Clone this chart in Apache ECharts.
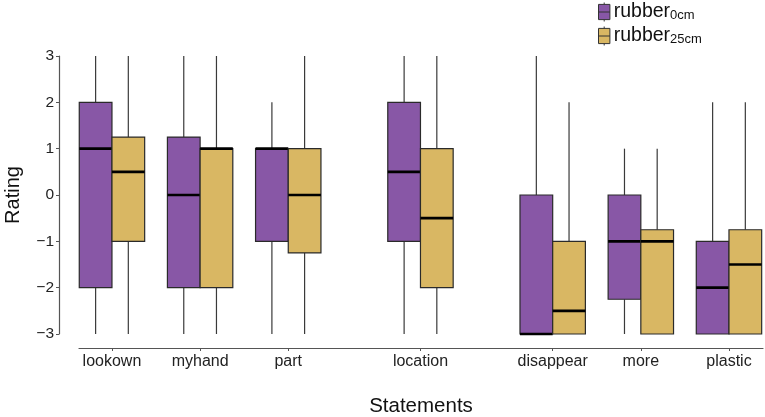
<!DOCTYPE html>
<html>
<head>
<meta charset="utf-8">
<script src="https://cdn.jsdelivr.net/npm/echarts@6/dist/echarts.min.js"></script>
<style>html,body{margin:0;padding:0;background:#fff}#c{width:765px;height:417px}</style>
</head>
<body>
<div id="c"></div>
<script>
// Statements (x categories) and their positions along the x axis
const categories = ['lookown', 'myhand', 'part', 'location', 'disappear', 'more', 'plastic'];
const positions = [0, 1, 2, 3.5, 5, 6, 7];
// [min, Q1, median, Q3, max]
const rubber0cm = [
  [-3, -2, 1, 2, 3],
  [-3, -2, 0, 1.25, 3],
  [-3, -1, 1, 1, 2],
  [-3, -1, 0.5, 2, 3],
  [-3, -3, -3, 0, 3],
  [-3, -2.25, -1, 0, 1],
  [-3, -3, -2, -1, 2]
];
const rubber25cm = [
  [-3, -1, 0.5, 1.25, 3],
  [-3, -2, 1, 1, 3],
  [-3, -1.25, 0, 1, 3],
  [-3, -2, -0.5, 1, 3],
  [-3, -3, -2.5, -1, 2],
  [-3, -3, -1, -0.75, 1],
  [-3, -3, -1.5, -0.75, 2]
];
const yTicks = [-3, -2, -1, 0, 1, 2, 3];

const FONT = 'Liberation Sans';
const BOXW = 32.7;

function makeRender(side) {
  return function (params, api) {
    const x = api.value(0);
    const lo = api.coord([x, api.value(1)]);
    const q1 = api.coord([x, api.value(2)]);
    const md = api.coord([x, api.value(3)]);
    const q3 = api.coord([x, api.value(4)]);
    const hi = api.coord([x, api.value(5)]);
    const cx = lo[0] + side * BOXW / 2;
    const left = cx - BOXW / 2;
    const color = api.visual('color');
    return {
      type: 'group',
      children: [
        { type: 'line', shape: { x1: cx, y1: q3[1], x2: cx, y2: hi[1] }, style: { stroke: '#3a3a3a', lineWidth: 1.2 } },
        { type: 'line', shape: { x1: cx, y1: q1[1], x2: cx, y2: lo[1] }, style: { stroke: '#3a3a3a', lineWidth: 1.2 } },
        { type: 'rect', shape: { x: left, y: q3[1], width: BOXW, height: q1[1] - q3[1] }, style: { fill: color, stroke: '#2a2a2a', lineWidth: 1.2 } },
        { type: 'line', shape: { x1: left, y1: md[1], x2: left + BOXW, y2: md[1] }, style: { stroke: '#000', lineWidth: 2.6 } }
      ]
    };
  };
}

function toData(arr) {
  return arr.map((v, i) => [positions[i]].concat(v));
}

const chart = echarts.init(document.getElementById('c'), null, { renderer: 'canvas' });
chart.setOption({
  animation: false,
  textStyle: { fontFamily: FONT },
  grid: { left: 79, right: 2, top: 56, bottom: 83, containLabel: false, outerBoundsMode: 'none' },
  legend: {
    left: 598, top: 2, orient: 'vertical', padding: 0,
    itemWidth: 13, itemHeight: 19, itemGap: 4,
    icon: 'path://M6,0 L6,2 M0,2 L12,2 L12,18 L0,18 Z M0,10 L12,10 M6,18 L6,20',
    itemStyle: { borderColor: '#333', borderWidth: 1 },
    data: ['rubber0cm', 'rubber25cm'],
    formatter: function (name) {
      return '{a|rubber}{b|' + name.replace('rubber', '') + '}';
    },
    textStyle: {
      padding: [0, 0, 0, -2],
      rich: {
        a: { fontSize: 19.5, color: '#111', fontFamily: FONT, verticalAlign: 'bottom', lineHeight: 20 },
        b: { fontSize: 13, color: '#111', fontFamily: FONT, verticalAlign: 'bottom', lineHeight: 19 }
      }
    }
  },
  xAxis: {
    type: 'value', min: -0.374, max: 7.386, offset: 14,
    name: 'Statements', nameLocation: 'middle', nameGap: 48,
    nameTextStyle: { fontSize: 20.5, color: '#111', fontFamily: FONT },
    axisLine: { show: true, onZero: false, lineStyle: { color: '#555', width: 1.2 } },
    axisTick: { show: true, length: 3, lineStyle: { color: '#555' }, customValues: positions },
    axisLabel: {
      customValues: positions, fontSize: 16, color: '#222', margin: 6, fontFamily: FONT,
      formatter: function (v) {
        const i = positions.indexOf(v);
        return i >= 0 ? categories[i] : '';
      }
    },
    splitLine: { show: false }
  },
  yAxis: {
    type: 'value', min: -3, max: 3, interval: 1, offset: 20,
    name: 'Rating', nameLocation: 'middle', nameGap: 36, nameRotate: 90,
    nameTextStyle: { fontSize: 20, color: '#111', fontFamily: FONT },
    axisLine: { show: true, onZero: false, lineStyle: { color: '#555', width: 1.2 } },
    axisTick: { show: true, length: 3, lineStyle: { color: '#555' } },
    axisLabel: {
      fontSize: 15.5, color: '#222', margin: 5, fontFamily: FONT,
      formatter: function (v) { return String(v).replace('-', '\u2212'); }
    },
    splitLine: { show: false }
  },
  series: [
    {
      name: 'rubber0cm', type: 'custom', color: '#8857a6',
      renderItem: makeRender(-1),
      encode: { x: 0, y: [1, 2, 3, 4, 5] },
      data: toData(rubber0cm)
    },
    {
      name: 'rubber25cm', type: 'custom', color: '#d9b763',
      renderItem: makeRender(1),
      encode: { x: 0, y: [1, 2, 3, 4, 5] },
      data: toData(rubber25cm)
    }
  ]
});
</script>
</body>
</html>
